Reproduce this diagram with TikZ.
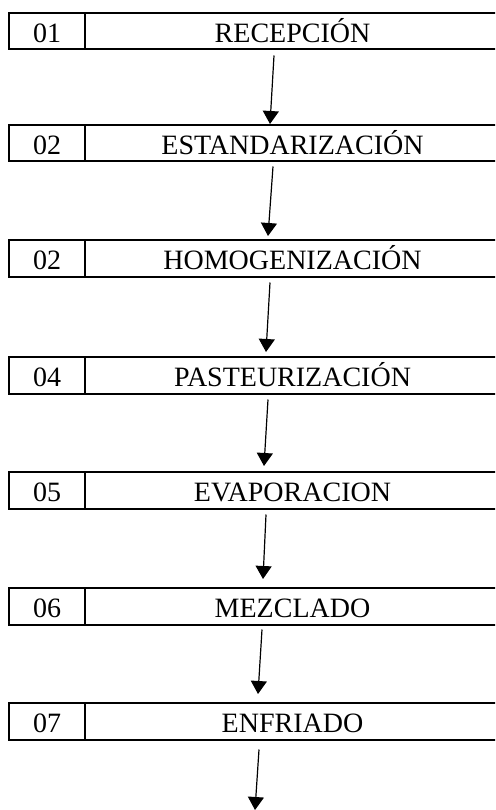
\documentclass[tikz,border=0pt]{standalone}
\usepackage{fontspec}
\setmainfont{Liberation Serif}
\usetikzlibrary{arrows.meta,calc}
\begin{document}
\begin{tikzpicture}[x=1pt,y=1pt,
  numcell/.style={draw,line width=2pt,minimum width=76pt,minimum height=36.5pt,inner sep=0pt,
    text height=25pt,text depth=2pt,font=\fontsize{28}{30}\selectfont},
  namecell/.style={draw,line width=2pt,minimum width=415pt,minimum height=36.5pt,inner sep=0pt,
    text height=25pt,text depth=2pt,font=\fontsize{28}{30}\selectfont},
  flow/.style={line width=1.2pt,-{Triangle[length=13pt,width=16pt]}}]
\useasboundingbox (0,0) rectangle (495,-810);
\clip (0,0) rectangle (495,-810);
\foreach \i/\top/\num/\name in {1/13/01/RECEPCIÓN,2/125/02/ESTANDARIZACIÓN,3/240/02/HOMOGENIZACIÓN,4/357/04/PASTEURIZACIÓN,5/472/05/EVAPORACION,6/588/06/MEZCLADO,7/703/07/ENFRIADO}{
  \node[numcell] (n\i) at (47,-\top-18.25) {\num};
  \node[namecell] (t\i) at (292.5,-\top-18.25) {\name};
}
\coordinate (end) at (255,-810);
\draw[flow] ($(t1.south)+(-18.5,-5)$) -- ($(t2.north)+(-22.5,0)$);
\draw[flow] ($(t2.south)+(-19.5,-4)$) -- ($(t3.north)+(-24.5,3)$);
\draw[flow] ($(t3.south)+(-22.5,-5)$) -- ($(t4.north)+(-26.5,4)$);
\draw[flow] ($(t4.south)+(-24.5,-5)$) -- ($(t5.north)+(-28.5,5)$);
\draw[flow] ($(t5.south)+(-26.5,-5)$) -- ($(t6.north)+(-29.5,8)$);
\draw[flow] ($(t6.south)+(-30.5,-4)$) -- ($(t7.north)+(-34.5,8)$);
\draw[flow] ($(t7.south)+(-33.5,-9)$) -- (end);
\end{tikzpicture}
\end{document}
